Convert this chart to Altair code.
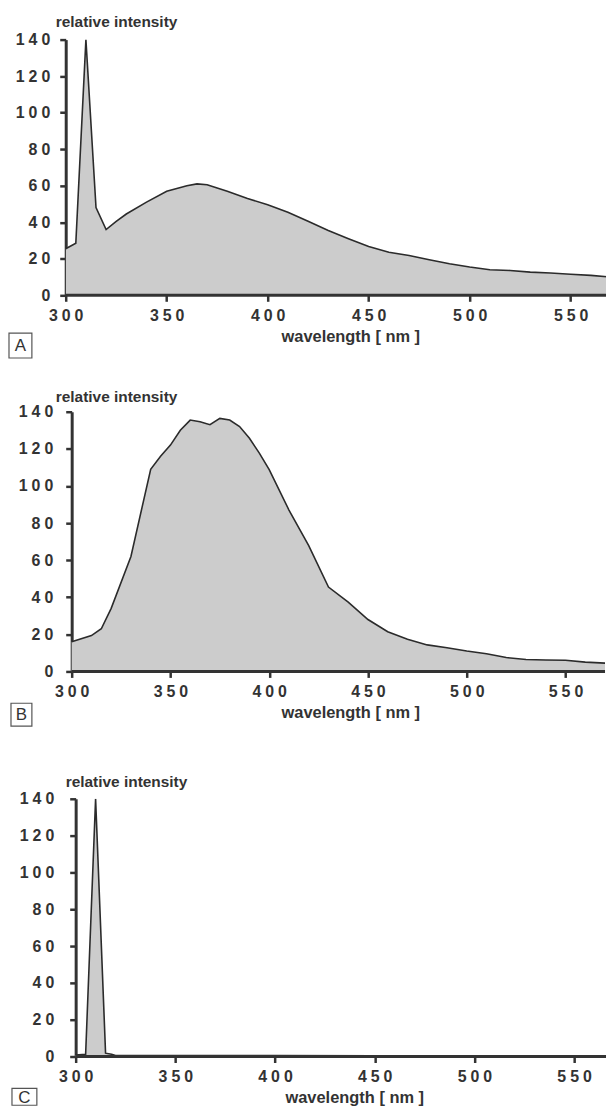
import altair as alt
import pandas as pd

# ---------------- data ----------------
x_ticks = [300, 350, 400, 450, 500, 550]
y_ticks = [0, 20, 40, 60, 80, 100, 120, 140]

A_wl = [300, 305, 310, 315, 320, 325, 330, 340, 350, 360, 365, 370, 380, 390, 400,
        410, 420, 430, 440, 450, 460, 470, 480, 490, 500, 510, 520, 530, 540, 550, 560, 570]
A_val = [25.5, 28.5, 140, 48, 36, 40.5, 44.5, 51, 57, 60, 61, 60.5, 57, 53, 49.6,
         45.5, 40.5, 35.5, 31, 26.7, 23.6, 21.8, 19.5, 17.3, 15.5, 14, 13.6, 12.7, 12.2, 11.5, 10.9, 10]

B_wl = [300, 310, 315, 320, 330, 340, 345, 350, 355, 360, 365, 370, 375, 380, 385, 390, 395, 400,
        410, 420, 430, 440, 450, 460, 470, 480, 490, 500, 510, 520, 530, 540, 550, 560, 570]
B_val = [16, 19.3, 23, 34, 62, 109, 116, 122, 130, 135.5, 134.6, 133, 136.4, 135.5, 132, 125.7, 117.7, 108.8,
         87, 67.8, 45.5, 37.4, 28, 21.4, 17.3, 14.3, 12.8, 11, 9.5, 7.5, 6.4, 6.2, 6, 5, 4.5]

C_wl = [300, 305, 310, 315, 318, 320, 350, 400, 450, 500, 550, 570]
C_val = [0.8, 1.2, 140, 1.8, 1.2, 0.5, 0.5, 0.5, 0.4, 0.4, 0.4, 0.3]

FONT = "Liberation Sans"
INK = "#333333"
LABEL_EXPR = "join(split(datum.label, ''), '\u2005')"


def panel(wl, val, letter, w, h, xdom, yoff, lab_pad, ytx, yty, xtx,
          box_x, box_w, box_y, box_h, let_y, pad_y=None):
    df = pd.DataFrame({"wl": wl, "val": val})
    x = alt.X(
        "wl:Q",
        scale=alt.Scale(domain=xdom, nice=False, zero=False),
        axis=alt.Axis(values=x_ticks, title="wavelength  [ nm ]", labelExpr=LABEL_EXPR,
                      labelFlush=False, labelOverlap=False, domain=False, labelPadding=6,
                      titleX=xtx, titleY=41, titleBaseline="middle"),
    )
    y = alt.Y(
        "val:Q",
        scale=alt.Scale(domain=[0, 140], nice=False),
        axis=alt.Axis(values=y_ticks, title=None, labelExpr=LABEL_EXPR,
                      labelOverlap=False, labelFlush=False,
                      labelPadding=lab_pad, offset=yoff),
    )
    area = alt.Chart(df).mark_area(color="#cccccc", opacity=1, clip=True).encode(x=x, y=y)
    line = alt.Chart(df).mark_line(color="#2b2b2b", strokeWidth=1.6, clip=True).encode(x=x, y=y)
    lab = pd.DataFrame({"letter": [letter], "ytitle": ["relative intensity"]})
    xline = alt.Chart(lab).mark_rule(color=INK, strokeWidth=3).encode(
        x=alt.datum(300), x2=alt.value(w), y=alt.value(h))
    ytitle = alt.Chart(lab).mark_text(font=FONT, fontSize=15.5, fontWeight="bold", color=INK,
                                      align="left", baseline="middle").encode(
        text="ytitle:N", x=alt.value(ytx), y=alt.value(yty),
    )
    box = alt.Chart(lab).mark_rect(fill="white", stroke="#555555", strokeWidth=1.2).encode(
        x=alt.value(box_x), x2=alt.value(box_x + box_w),
        y=alt.value(h + box_y), y2=alt.value(h + box_y + box_h),
    )
    txt = alt.Chart(lab).mark_text(font=FONT, fontSize=17, color=INK, baseline="middle",
                                   align="center").encode(
        text="letter:N", x=alt.value(box_x + box_w / 2), y=alt.value(h + let_y),
    )
    layers = [area, line, xline, ytitle, box, txt]
    if pad_y is not None:
        layers.append(alt.Chart(lab).mark_rule(color="white", strokeWidth=1).encode(
            x=alt.value(0), x2=alt.value(4), y=alt.value(h + pad_y)))
    return alt.layer(*layers).properties(width=w, height=h)


# plot areas all start at page x=65; B and C axes are shifted right by a negative offset
pA = panel(A_wl, A_val, "A", 543, 257, [300, 567.5], 0, 10, -10, -18, 286,
           -57, 23, 38, 25, 50.5)
pB = panel(B_wl, B_val, "B", 542, 261, [296.98, 570], -6, 13, -10, -15, 286,
           -55, 21, 32, 23, 43.5, pad_y=72)
pC = panel(C_wl, C_val, "C", 543, 259, [295.01, 566.0], -10, 16, 0, -17, 290,
           -54, 25, 32, 17, 42)

chart = alt.vconcat(pA, pB, pC, spacing=31).properties(
    padding={"left": 0, "top": 4, "right": 0, "bottom": 0}
).configure_view(
    stroke=None
).configure_axis(
    grid=False,
    domainColor=INK, domainWidth=3,
    tickColor=INK, tickWidth=2.5, tickSize=6,
    labelFont=FONT, labelFontSize=16, labelFontWeight="bold", labelColor=INK,
    titleFont=FONT, titleFontSize=16.5, titleFontWeight="bold", titleColor=INK,
).configure_axisX(
    labelBaseline="top",
)

chart.save("out.html", embed_options={"renderer": "svg", "actions": False})
